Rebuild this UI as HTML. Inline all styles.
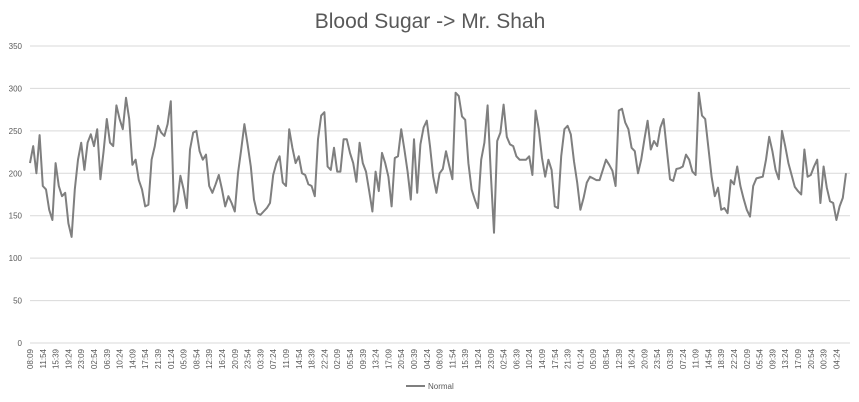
<!DOCTYPE html>
<html><head><meta charset="utf-8"><style>
html,body{margin:0;padding:0;background:#fff;}
svg{display:block;font-family:"Liberation Sans",sans-serif;}
</style></head><body>
<svg id="chart" width="859" height="402">
<text x="430" y="28" text-anchor="middle" font-size="21" fill="#595959">Blood Sugar -&gt; Mr. Shah</text>
<g id="grid"></g><g id="yticks"></g><g id="xticks"></g><g id="series"></g>
<g>
<line x1="406" y1="386" x2="425" y2="386" stroke="#7f7f7f" stroke-width="2"/>
<text x="428" y="389" font-size="8" fill="#595959">Normal</text>
</g>
</svg>
<script>
const yTicks=[0,50,100,150,200,250,300,350];
const baseLabels=["08:09","11:54","15:39","19:24","23:09","02:54","06:39","10:24","14:09","17:54","21:39","01:24","05:09","08:54","12:39","16:24","20:09","23:54","03:39","07:24","11:09","14:54","18:39","22:24","02:09","05:54","09:39","13:24","17:09","20:54","00:39","04:24"];
const tickLabels=baseLabels.concat(baseLabels);
const normalValues=[212,232,200,245,185,181,157,145,212,185,173,177,141,125,181,216,236,204,236,246,232,252,193,226,264,236,232,280,264,252,289,264,
210,216,192,181,161,163,216,232,256,248,244,258,285,155,165,197,181,159,228,248,250,226,216,222,185,177,187,198,181,161,173,165,
155,200,228,258,234,208,169,153,151,155,159,165,198,212,220,189,185,252,230,212,220,200,198,187,185,173,240,268,272,208,204,230,
202,202,240,240,224,212,190,236,212,202,179,155,202,179,224,212,196,161,218,220,252,228,202,169,240,177,234,254,262,232,196,177,
200,205,226,209,193,295,291,267,263,212,181,169,159,216,236,280,200,130,238,248,281,243,234,232,220,216,216,216,220,198,274,252,
218,196,216,204,161,159,220,252,256,246,214,189,157,171,189,196,194,192,192,204,216,210,203,185,274,276,260,252,230,226,200,
216,240,262,228,238,232,254,264,228,193,191,205,206,208,222,216,202,198,295,268,264,230,196,173,183,157,159,153,192,187,208,185,
170,157,149,185,194,195,196,216,243,226,204,193,250,232,212,198,184,179,175,228,196,198,208,216,165,208,183,167,165,145,161,171,200];
const NS="http://www.w3.org/2000/svg";
const X0=30,X1=846,Y0=343,Y1=46,VMAX=350;
function yScale(v){return Y0-(v/VMAX)*(Y0-Y1);}
function xScale(i){return X0+i*(X1-X0)/(normalValues.length-1);}
function mk(tag,attrs,parent){const e=document.createElementNS(NS,tag);for(const k in attrs)e.setAttribute(k,attrs[k]);parent.appendChild(e);return e;}
const grid=document.getElementById('grid'),yt=document.getElementById('yticks'),xt=document.getElementById('xticks'),ser=document.getElementById('series');
yTicks.forEach(v=>{
 const y=yScale(v);
 const l=mk('line',{x1:30,x2:850,y1:y,y2:y,stroke:'#d9d9d9','stroke-width':1},grid);
 
 
 const t=mk('text',{x:22,y:y+3,'text-anchor':'end','font-size':8,fill:'#595959'},yt);
 
 
 t.textContent=v;
});
const step=(normalValues.length)/tickLabels.length;
tickLabels.forEach((lab,k)=>{
 const x=xScale(k*step)+3;
 const t=mk('text',{x:x,y:349,'text-anchor':'end','font-size':8,fill:'#595959',transform:'rotate(-90 '+x+' 349)'},xt);
 
 
 t.textContent=lab;
});
const pts=normalValues.map((v,i)=>xScale(i).toFixed(1)+','+yScale(v).toFixed(1)).join(' ');
const pl=mk('polyline',{points:pts,fill:'none',stroke:'#7f7f7f','stroke-width':2,'stroke-linejoin':'round'},ser);


</script>
</body></html>
